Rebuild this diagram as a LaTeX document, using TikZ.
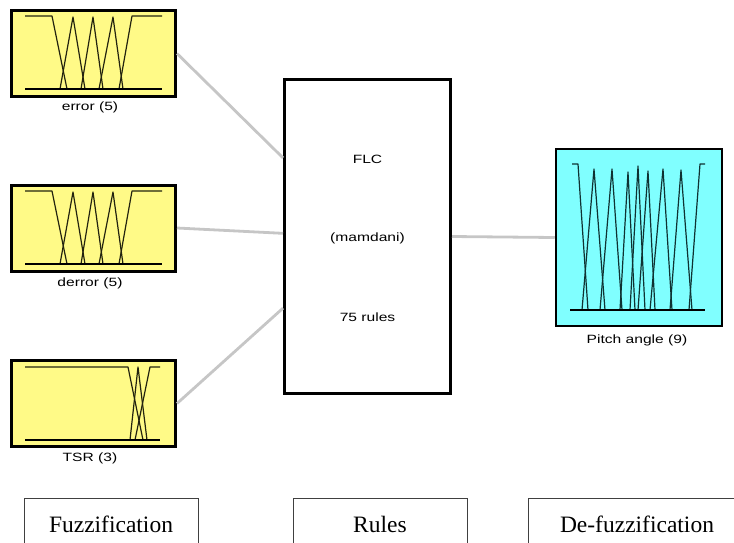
\documentclass[tikz,border=0pt]{standalone}
\usepackage{fontspec}
\usepackage{graphicx}
\setmainfont{Liberation Serif}
\newfontfamily\labelfont{Liberation Sans}
\usetikzlibrary{calc}

\definecolor{inyellow}{RGB}{255,250,135}
\definecolor{outcyan}{RGB}{128,255,255}
\definecolor{connGray}{RGB}{198,198,198}
\definecolor{mfline}{RGB}{35,35,15}
\definecolor{mfcyan}{RGB}{15,50,50}

\tikzset{
  varbox/.style={draw=black, line width=3pt, inner sep=0pt},
  inbox/.style={varbox, fill=inyellow, minimum width=164pt, minimum height=86pt},
  outbox/.style={varbox, fill=outcyan, line width=2.5pt, minimum width=166pt, minimum height=177pt},
  flcbox/.style={varbox, fill=white, minimum width=166pt, minimum height=314pt},
  conn/.style={draw=connGray, line width=2.8pt},
  mf/.style={draw=mfline, line width=1.2pt, line join=round},
  mfbase/.style={draw=black, line width=1.9pt},
  mfo/.style={draw=mfcyan, line width=1.2pt, line join=round},
  varlabel/.style={font=\labelfont\fontsize{12}{14}\selectfont},
  stagebox/.style={draw=black!75, line width=0.9pt},
  stagelabel/.style={font=\fontsize{23.5}{26}\selectfont, anchor=base}
}

\newcommand{\wide}[1]{\scalebox{1.3}[1]{#1}}

\begin{document}
\begin{tikzpicture}[x=1pt, y=-1pt]
\useasboundingbox (0,0) rectangle (734,542);

% ---- blocks ----
\node[inbox]  (err)   at (93.5,53.5) {};
\node[inbox]  (derr)  at (93.5,228)  {};
\node[inbox]  (tsr)   at (93.5,403.5) {};
\node[flcbox] (flc)   at (367.5,236.5) {};
\node[outbox] (pitch) at (639,237.5) {};

% ---- block labels ----
\node[varlabel] (errlab)   at (90,107)  {\wide{error (5)}};
\node[varlabel] (derrlab)  at (90,283)  {\wide{derror (5)}};
\node[varlabel] (tsrlab)   at (90,458)  {\wide{TSR (3)}};
\node[varlabel] (pitchlab) at (637,340) {\wide{Pitch angle (9)}};
\node[varlabel] (flcname)  at (flc |- 0,159) {\wide{FLC}};
\node[varlabel] (flctype)  at (flc |- 0,238) {\wide{(mamdani)}};
\node[varlabel] (flcrules) at (flc |- 0,317) {\wide{75 rules}};

% ---- connectors ----
\draw[conn] (err.east) -- ($(flc.north west)!0.252!(flc.south west)$);
\draw[conn] (derr.east) -- ($(flc.north west)!0.49!(flc.south west)$);
\draw[conn] (tsr.east) -- ($(flc.north west)!0.726!(flc.south west)$);
\draw[conn] (flc.east) -- (pitch.west);

% ---- membership functions: error and derror (5 sets each) ----
\foreach \dy in {0,175}{
  \begin{scope}[yshift=-\dy pt]
    \draw[mf] (25,16) -- (52,16) -- (67,89);
    \draw[mf] (60,89) -- (73,17) -- (85,89);
    \draw[mf] (81,89) -- (93,17) -- (103,89);
    \draw[mf] (99,89) -- (113,17) -- (123,89);
    \draw[mf] (119,89) -- (132,16) -- (162,16);
    \draw[mfbase] (25,89) -- (162,89);
  \end{scope}
}

% ---- membership functions: TSR (3 sets) ----
\draw[mf] (25,367) -- (128,367) -- (143,440);
\draw[mf] (130,440) -- (138,367) -- (147,440);
\draw[mf] (135,440) -- (150,367) -- (160,367);
\draw[mfbase] (25,440) -- (160,440);

% ---- membership functions: pitch angle (9 sets) ----
\draw[mfo] (572,164) -- (578,164) -- (588,310);
\draw[mfo] (582,310) -- (594,169) -- (605,310);
\draw[mfo] (600,310) -- (612,169) -- (622,310);
\draw[mfo] (620,310) -- (628,172) -- (635,310);
\draw[mfo] (630,310) -- (638,166) -- (645,310);
\draw[mfo] (638,310) -- (648,171) -- (655,310);
\draw[mfo] (650,310) -- (663,169) -- (672,310);
\draw[mfo] (670,310) -- (681,170) -- (692,310);
\draw[mfo] (689,310) -- (700,164) -- (705,164);
\draw[mfbase] (570,310) -- (705,310);

% ---- stage captions (boxes open at the lower edge) ----
\draw[stagebox] (24,550) -- (24,498.5) -- (198.5,498.5) -- (198.5,550);
\draw[stagebox] (293,550) -- (293,498.5) -- (467,498.5) -- (467,550);
\draw[stagebox] (528.5,550) -- (528.5,498.5) -- (745,498.5);
\node[stagelabel] (fuzz)   at (111,532) {Fuzzification};
\node[stagelabel] (rules)  at (380,532) {Rules};
\node[stagelabel] (defuzz) at (637,532) {De-fuzzification};
\end{tikzpicture}
\end{document}
